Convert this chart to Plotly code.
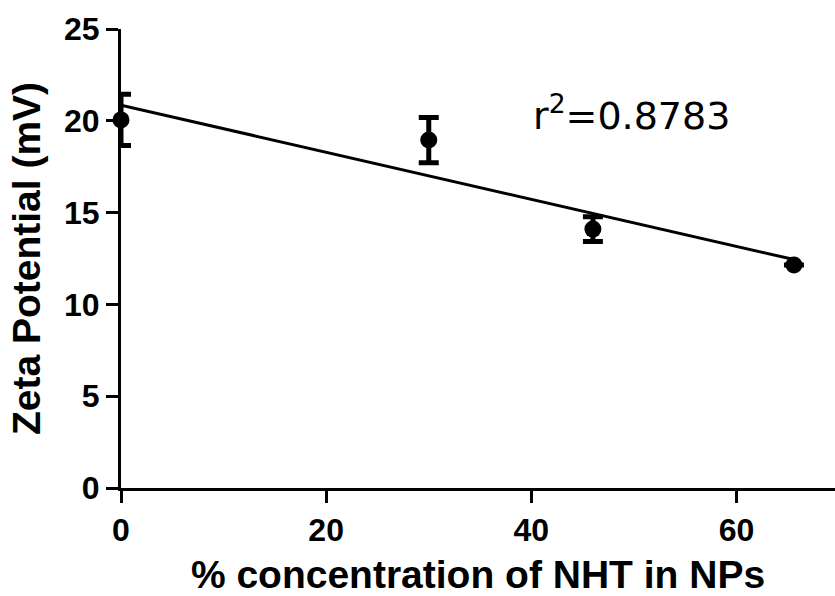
import numpy as np
import plotly.graph_objects as go

# Data
conc_nht = [0, 30, 46, 65.6]            # % concentration of NHT in NPs
zeta_mean = [20.05, 18.95, 14.1, 12.15]  # Zeta potential (mV)
zeta_err = [1.4, 1.23, 0.68, 0.0]        # error bars (mV)
x_ticks = [0, 20, 40, 60]
y_ticks = [0, 5, 10, 15, 20, 25]
r2_label = "r<sup>2</sup>=0.8783"

# Linear regression of the data
slope, intercept = np.polyfit(conc_nht, zeta_mean, 1)
fit_x = [min(conc_nht), max(conc_nht)]
fit_y = [intercept + slope * v for v in fit_x]

fig = go.Figure()
fig.add_trace(go.Scatter(
    x=fit_x, y=fit_y, mode="lines",
    line=dict(color="black", width=3),
    cliponaxis=False, showlegend=False, hoverinfo="skip",
))
fig.add_trace(go.Scatter(
    x=conc_nht, y=zeta_mean, mode="markers",
    marker=dict(color="black", size=17, symbol="circle"),
    error_y=dict(type="data", array=zeta_err, visible=True,
                 color="black", thickness=5, width=10),
    cliponaxis=False, showlegend=False,
))

fig.add_annotation(
    x=40, y=20.4, xref="x", yref="y", text=r2_label, showarrow=False,
    xanchor="left", yanchor="middle",
    font=dict(family="DejaVu Sans", size=38, color="black"),
)

axis_font = dict(family="Liberation Sans", size=32, color="black", weight="bold")
title_font = dict(family="Liberation Sans", size=39, color="black", weight="bold")

fig.update_xaxes(
    range=[0, 69.6], tickvals=x_ticks, ticktext=[str(v) for v in x_ticks],
    showline=True, linecolor="black", linewidth=3,
    ticks="outside", ticklen=12, tickwidth=3, tickcolor="black",
    showgrid=False, zeroline=False,
    tickfont=axis_font,
    title=dict(text="% concentration of NHT in NPs", font=title_font, standoff=16),
)
fig.update_yaxes(
    range=[0, 25], tickvals=y_ticks, ticktext=[str(v) for v in y_ticks],
    showline=True, linecolor="black", linewidth=3,
    ticks="outside", ticklen=12, tickwidth=3, tickcolor="black",
    showgrid=False, zeroline=False,
    tickfont=axis_font,
    title=dict(text="Zeta Potential (mV)", font=title_font, standoff=12),
)
fig.update_layout(
    width=835, height=596,
    margin=dict(l=121, r=0, t=29, b=108, autoexpand=False),
    plot_bgcolor="white", paper_bgcolor="white",
    font=dict(family="Liberation Sans", color="black"),
)

fig.write_html("out.html")
